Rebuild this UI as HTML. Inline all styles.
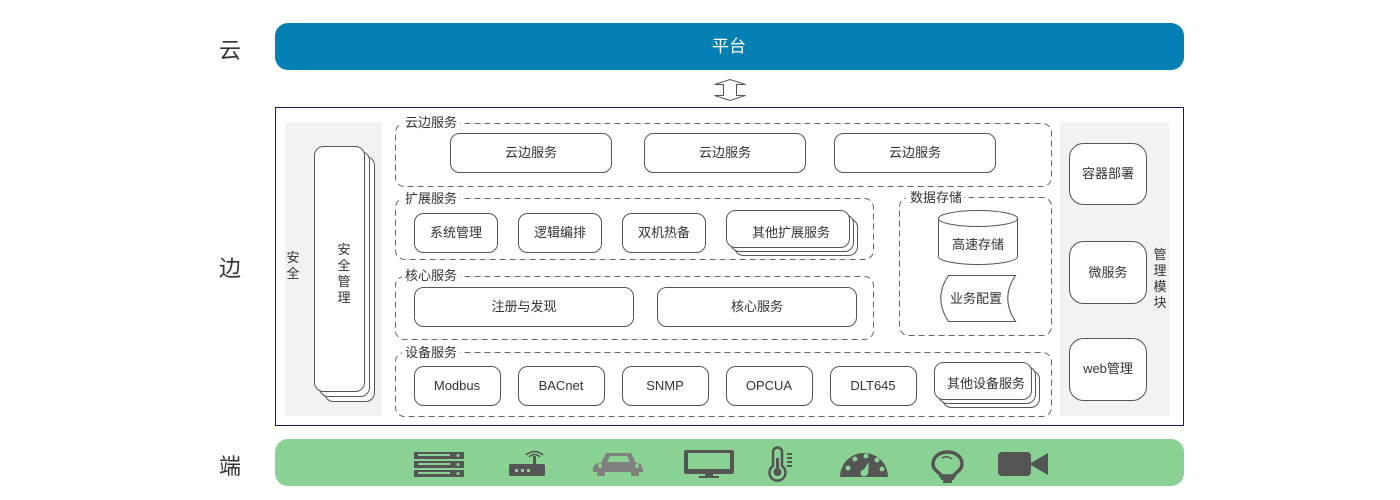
<!DOCTYPE html>
<html><head><meta charset="utf-8"><style>
html,body{margin:0;padding:0;background:#fff;}
svg{display:block;}
text{font-family:"Liberation Sans","Noto Sans CJK SC",sans-serif;fill:#333;}
</style></head><body>
<svg width="1400" height="500" viewBox="0 0 1400 500" xmlns="http://www.w3.org/2000/svg">
<text x="230" y="58" font-size="22" text-anchor="middle">云</text>
<text x="230" y="276" font-size="22" text-anchor="middle">边</text>
<text x="230" y="474" font-size="22" text-anchor="middle">端</text>

<rect x="275" y="23" width="909" height="47" rx="13" fill="#0480b4"/>
<text x="729" y="52" font-size="17" text-anchor="middle" style="fill:#fff">平台</text>

<path d="M714.5,84.5 L730,79.5 L745.5,84.5 L736.5,84.5 L736.5,95.5 L745.5,95.5 L730,100.5 L714.5,95.5 L723.5,95.5 L723.5,84.5 Z" fill="#fff" stroke="#555" stroke-width="1"/>

<rect x="275.5" y="107.5" width="908" height="318" fill="#fff" stroke="#1a1a5e" stroke-width="1"/>

<rect x="285" y="122" width="97" height="294" fill="#f2f2f2"/>
<text font-size="13" x="293" y="262" text-anchor="middle">安</text>
<text font-size="13" x="293" y="278" text-anchor="middle">全</text>
<g fill="#fff" stroke="#555">
<rect x="324.5" y="156.5" width="50" height="245" rx="9"/>
<rect x="319.5" y="151.5" width="50" height="245" rx="9"/>
<rect x="314.5" y="146.5" width="50" height="245" rx="9"/>
</g>
<g font-size="13" text-anchor="middle">
<text x="344" y="254">安</text><text x="344" y="270">全</text><text x="344" y="286">管</text><text x="344" y="302">理</text>
</g>

<g fill="none" stroke="#666" stroke-dasharray="6,4">
<rect x="395.5" y="123.5" width="656" height="63" rx="9"/>
<rect x="395.5" y="198.5" width="478" height="61" rx="9"/>
<rect x="395.5" y="276.5" width="478" height="63" rx="9"/>
<rect x="395.5" y="352.5" width="656" height="64" rx="9"/>
<rect x="899.5" y="197.5" width="152" height="138" rx="9"/>
</g>
<g fill="#fff">
<rect x="402" y="115" width="58" height="16"/>
<rect x="402" y="190" width="58" height="16"/>
<rect x="402" y="268" width="58" height="16"/>
<rect x="402" y="344" width="58" height="16"/>
<rect x="906" y="189" width="58" height="16"/>
</g>
<g font-size="13">
<text x="405" y="127">云边服务</text>
<text x="405" y="203">扩展服务</text>
<text x="405" y="280">核心服务</text>
<text x="405" y="357">设备服务</text>
<text x="910" y="202">数据存储</text>
</g>

<g fill="#fff" stroke="#555">
<rect x="450.5" y="133.5" width="161" height="39" rx="9"/>
<rect x="644.5" y="133.5" width="161" height="39" rx="9"/>
<rect x="834.5" y="133.5" width="161" height="39" rx="9"/>
<rect x="414.5" y="213.5" width="83" height="39" rx="9"/>
<rect x="518.5" y="213.5" width="83" height="39" rx="9"/>
<rect x="622.5" y="213.5" width="83" height="39" rx="9"/>
<rect x="734.5" y="218.5" width="123" height="37" rx="9"/>
<rect x="730.5" y="214.5" width="123" height="37" rx="9"/>
<rect x="726.5" y="210.5" width="123" height="37" rx="9"/>
<rect x="414.5" y="287.5" width="219" height="39" rx="9"/>
<rect x="657.5" y="287.5" width="199" height="39" rx="9"/>
<rect x="414.5" y="366.5" width="86" height="39" rx="9"/>
<rect x="518.5" y="366.5" width="86" height="39" rx="9"/>
<rect x="622.5" y="366.5" width="86" height="39" rx="9"/>
<rect x="726.5" y="366.5" width="86" height="39" rx="9"/>
<rect x="830.5" y="366.5" width="86" height="39" rx="9"/>
<rect x="942.5" y="370.5" width="97" height="37" rx="9"/>
<rect x="938.5" y="366.5" width="97" height="37" rx="9"/>
<rect x="934.5" y="362.5" width="97" height="37" rx="9"/>
<path d="M938.5,218.5 L938.5,256.5 A39.5,8 0 0 0 1017.5,256.5 L1017.5,218.5"/>
<ellipse cx="978" cy="218.5" rx="39.5" ry="8"/>
<path d="M948.5,275.5 L1015.5,275.5 Q1000,298 1015.5,321.5 L948.5,321.5 Q933,298 948.5,275.5 Z"/>
</g>
<g font-size="13" text-anchor="middle">
<text x="531" y="157">云边服务</text>
<text x="725" y="157">云边服务</text>
<text x="915" y="157">云边服务</text>
<text x="456" y="237">系统管理</text>
<text x="560" y="237">逻辑编排</text>
<text x="664" y="237">双机热备</text>
<text x="791" y="237">其他扩展服务</text>
<text x="524" y="311">注册与发现</text>
<text x="757" y="311">核心服务</text>
<text x="457" y="390">Modbus</text>
<text x="561" y="390">BACnet</text>
<text x="665" y="390">SNMP</text>
<text x="769" y="390">OPCUA</text>
<text x="873" y="390">DLT645</text>
<text x="986" y="388">其他设备服务</text>
<text x="978" y="249">高速存储</text>
<text x="976" y="303">业务配置</text>
</g>

<rect x="1060" y="122" width="109" height="294" fill="#f2f2f2"/>
<g fill="#fff" stroke="#555">
<rect x="1069.5" y="143.5" width="77" height="61" rx="14"/>
<rect x="1069.5" y="241.5" width="77" height="62" rx="14"/>
<rect x="1069.5" y="338.5" width="77" height="62" rx="14"/>
</g>
<g font-size="13" text-anchor="middle">
<text x="1108" y="178">容器部署</text>
<text x="1108" y="277">微服务</text>
<text x="1108" y="373">web管理</text>
<text x="1160" y="259">管</text><text x="1160" y="275">理</text><text x="1160" y="291">模</text><text x="1160" y="307">块</text>
</g>

<rect x="275" y="439" width="909" height="47" rx="13" fill="#8ad294"/>
<g fill="#555">
<rect x="414" y="452" width="50" height="7"/><rect x="414" y="461" width="50" height="7"/><rect x="414" y="470" width="50" height="7"/>
<g fill="#8ad294"><rect x="418" y="454" width="32" height="2"/><rect x="418" y="463" width="32" height="2"/><rect x="418" y="472" width="32" height="2"/>
<circle cx="458" cy="455.5" r="1.5"/><circle cx="458" cy="464.5" r="1.5"/><circle cx="458" cy="473.5" r="1.5"/></g>
<rect x="509" y="464" width="36" height="12" rx="2"/>
<rect x="533" y="456" width="3" height="9"/>
<path d="M526,455 Q534.5,448 543,455" fill="none" stroke="#555" stroke-width="1.5"/>
<path d="M529,457 Q534.5,452 540,457" fill="none" stroke="#555" stroke-width="1.5"/>
<g fill="#8ad294"><rect x="515" y="469" width="3" height="3"/><rect x="521" y="469" width="3" height="3"/><rect x="527" y="469" width="3" height="3"/></g>
<g fill="#808080">
<path d="M601,463 L606,453 L631,453 L636,463 L641,464 L643,470 L643,472 L593,472 L593,467 L596,464 Z"/>
<rect x="597" y="470" width="8" height="6" rx="2"/><rect x="631" y="470" width="8" height="6" rx="2"/>
</g>
<g fill="#8ad294"><path d="M607,462 L610,456 L627,456 L630,462 Z"/><circle cx="600" cy="466" r="2"/><circle cx="637" cy="466" r="2"/></g>
<rect x="684" y="450" width="50" height="24" rx="2"/>
<rect x="688" y="453" width="42" height="16" fill="#8ad294"/>
<rect x="705" y="474" width="8" height="2"/><rect x="699" y="476" width="20" height="2"/>
<path d="M773,452 a4.5,4.5 0 0 1 9,0 L782,466 a8,8 0 1 1 -9,0 Z" fill="none" stroke="#555" stroke-width="2.5"/>
<circle cx="777.5" cy="472" r="4"/><rect x="776" y="458" width="3" height="12"/>
<rect x="787" y="453" width="5" height="2"/><rect x="787" y="457" width="5" height="2"/><rect x="787" y="461" width="5" height="2"/><rect x="787" y="465" width="5" height="2"/>
<path d="M840,477 A24,24 0 0 1 888,477 Z"/>
<g fill="#8ad294"><circle cx="848" cy="468" r="2.5"/><circle cx="855" cy="459" r="2.5"/><circle cx="866" cy="456" r="2.5"/><circle cx="877" cy="460" r="2.5"/><circle cx="882" cy="469" r="2.5"/>
<path d="M862,472 L869,462 L868,474 Z"/><circle cx="864" cy="473" r="3.5"/></g>
<path d="M947.5,452 C938,452 933,458 933,464 C933,469 937,471 941,475 L941,476 L954,476 L954,475 C958,471 962,469 962,464 C962,458 957,452 947.5,452 Z" fill="none" stroke="#555" stroke-width="3.5"/>
<rect x="941" y="476" width="13" height="4"/>
<rect x="943" y="480" width="9" height="3" rx="1"/>
<path d="M942,458 Q947,455 952,459" fill="none" stroke="#555" stroke-width="1.5"/>
<rect x="998" y="452" width="33" height="24" rx="4"/>
<path d="M1029,464 L1048,453 L1048,475 Z"/>
</g>
</svg>
</body></html>
